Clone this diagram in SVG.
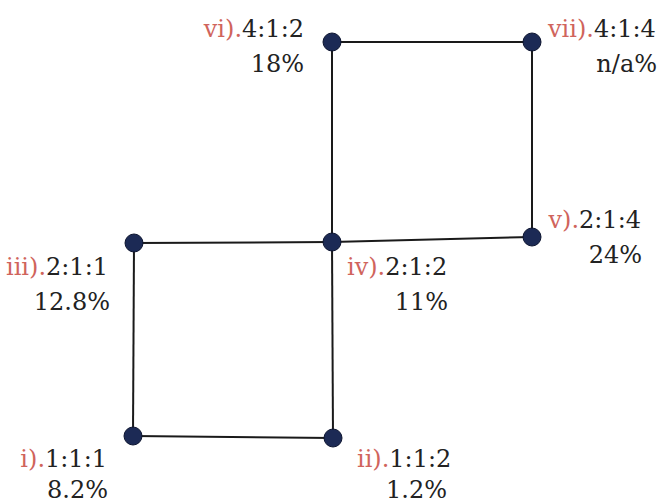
<svg xmlns="http://www.w3.org/2000/svg" width="661" height="504" viewBox="0 0 661 504">
<style>
.e{stroke:#1a1a1a;stroke-width:2;fill:none}
.n{fill:#1c2a55;stroke:#0d1530;stroke-width:1}
text{font-family:"DejaVu Serif",serif;font-size:24px;fill:#222}
.r{fill:#d0645c}
.end{text-anchor:end}
</style>
<rect width="661" height="504" fill="#fff"/>
<g id="connectors">
<line class="e" x1="332" y1="42" x2="532" y2="42"/>
<line class="e" x1="532" y1="42" x2="532" y2="237"/>
<line class="e" x1="532" y1="237" x2="332" y2="242"/>
<line class="e" x1="332" y1="42" x2="332" y2="242"/>
<line class="e" x1="332" y1="242" x2="134" y2="243"/>
<line class="e" x1="332" y1="242" x2="333" y2="438"/>
<line class="e" x1="134" y1="243" x2="133" y2="436"/>
<line class="e" x1="133" y1="436" x2="333" y2="438"/>
</g>
<g id="node-i">
<circle class="n" cx="133" cy="436" r="9"/>
<text x="107" y="467" class="end"><tspan class="r">i).</tspan>1:1:1</text>
<text x="108" y="498" class="end">8.2%</text>
</g>
<g id="node-ii">
<circle class="n" cx="333" cy="438" r="9"/>
<text x="357" y="467"><tspan class="r">ii).</tspan>1:1:2</text>
<text x="447" y="498" class="end">1.2%</text>
</g>
<g id="node-iii">
<circle class="n" cx="134" cy="243" r="9"/>
<text x="108" y="275" class="end"><tspan class="r">iii).</tspan>2:1:1</text>
<text x="110" y="310" class="end">12.8%</text>
</g>
<g id="node-iv">
<circle class="n" cx="332" cy="242" r="9"/>
<text x="347" y="275"><tspan class="r">iv).</tspan>2:1:2</text>
<text x="448" y="310" class="end">11%</text>
</g>
<g id="node-v">
<circle class="n" cx="532" cy="237" r="9"/>
<text x="641" y="228" class="end"><tspan class="r">v).</tspan>2:1:4</text>
<text x="642" y="263" class="end">24%</text>
</g>
<g id="node-vi">
<circle class="n" cx="332" cy="42" r="9"/>
<text x="304" y="37" class="end"><tspan class="r">vi).</tspan>4:1:2</text>
<text x="304" y="72" class="end">18%</text>
</g>
<g id="node-vii">
<circle class="n" cx="532" cy="42" r="9"/>
<text x="548" y="37"><tspan class="r">vii).</tspan>4:1:4</text>
<text x="657" y="72" class="end">n/a%</text>
</g>
</svg>
